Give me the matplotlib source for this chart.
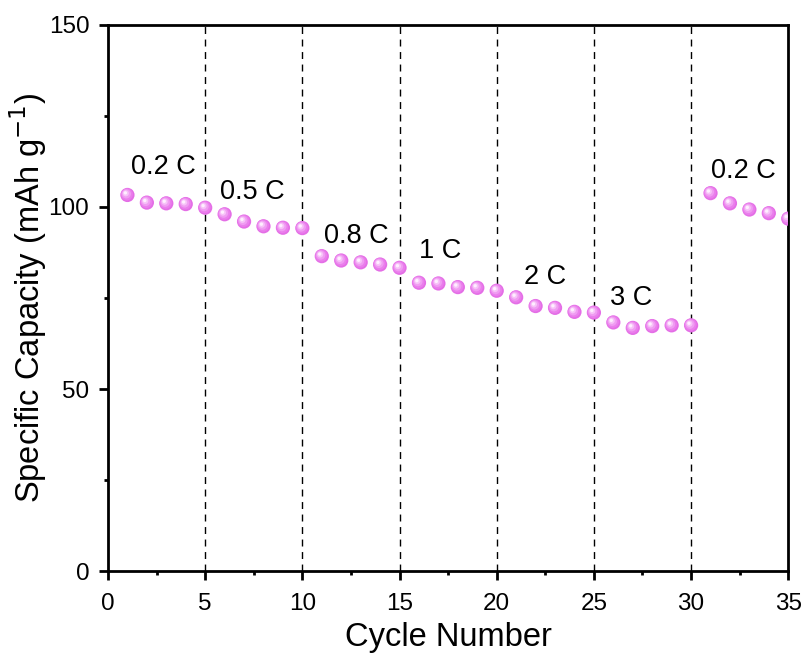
import matplotlib
matplotlib.use("Agg")
import matplotlib.pyplot as plt
import matplotlib.transforms as mtransforms
import numpy as np

plt.rcParams['font.family'] = ['Liberation Sans', 'DejaVu Sans']

cycles = list(range(1, 36))
capacity = [103.3, 101.2, 101.0, 100.8, 99.8,
            98.0, 96.0, 94.7, 94.3, 94.2,
            86.5, 85.3, 84.8, 84.2, 83.3,
            79.2, 79.0, 78.0, 77.8, 77.0,
            75.2, 72.8, 72.3, 71.2, 71.0,
            68.3, 66.8, 67.3, 67.5, 67.5,
            103.8, 101.0, 99.3, 98.3, 96.8]
rate_labels = ["0.2 C", "0.5 C", "0.8 C", "1 C", "2 C", "3 C", "0.2 C"]
label_x = [2.85, 7.4, 12.8, 17.1, 22.5, 26.9, 32.7]
label_y = [111.0, 104.0, 92.0, 88.0, 80.8, 75.0, 110.0]
boundaries = [5, 10, 15, 20, 25, 30]

fig = plt.figure(figsize=(8.06, 6.55), dpi=100)
ax = fig.add_axes([0.134, 0.128, 0.844, 0.834])

for b in boundaries:
    ax.axvline(b, color='black', lw=1.0, ls=(0, (5, 4)), zorder=1)

# sphere-like markers: layered circles
layers = [
    (105, '#E46EE6', 0.0, 0.0),
    (75, '#EA7EEC', -0.4, 0.4),
    (45, '#F09CF2', -0.8, 0.8),
    (20, '#F7C2F8', -1.2, 1.2),
    (6, '#FFEEFF', -1.5, 1.5),
]
for s, c, dx, dy in layers:
    tr = mtransforms.offset_copy(ax.transData, fig=fig, x=dx, y=dy, units='points')
    ax.scatter(cycles, capacity, s=s, color=c, edgecolors='none', transform=tr, zorder=3)

for t, x, y in zip(rate_labels, label_x, label_y):
    ax.text(x, y, t, fontsize=19.5, ha='center', va='center', zorder=4)

ax.set_xlim(0, 35)
ax.set_ylim(0, 150)
ax.set_xticks([0, 5, 10, 15, 20, 25, 30, 35])
ax.set_xticks(np.arange(2.5, 35, 5), minor=True)
ax.set_yticks([0, 50, 100, 150])
ax.set_yticks([25, 75, 125], minor=True)
ax.tick_params(which='major', direction='out', length=6.5, width=2, labelsize=17.5, pad=7)
ax.tick_params(axis='x', which='major', pad=9)
ax.tick_params(which='minor', direction='out', length=3, width=2)
for sp in ax.spines.values():
    sp.set_linewidth(2)

ax.set_xlabel('Cycle Number', fontsize=23.5, labelpad=5)
ax.set_ylabel('Specific Capacity (mAh g$^{-1}$)', fontsize=23.5, labelpad=0)

fig.savefig('out.png', dpi=100)
